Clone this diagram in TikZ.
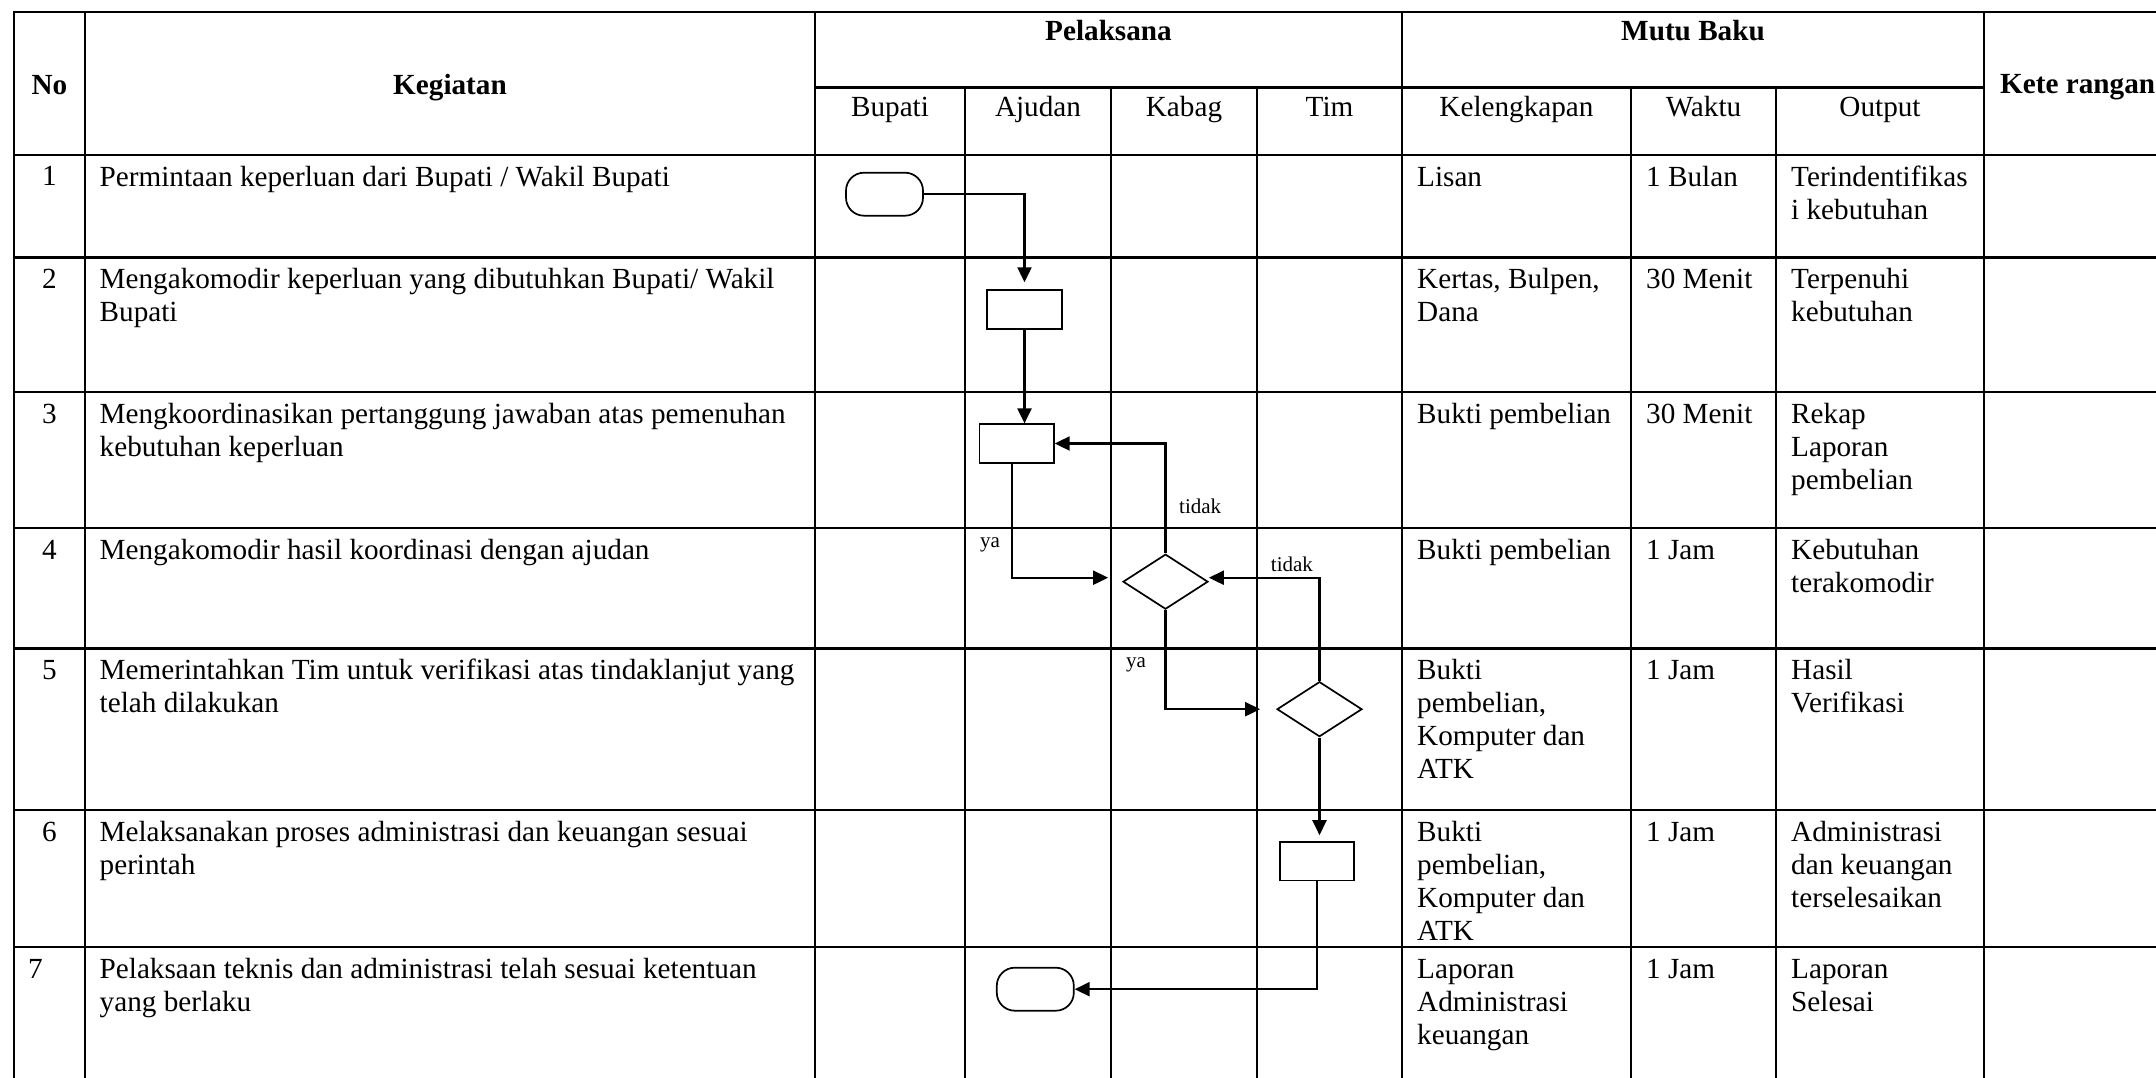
\documentclass[tikz,border=0pt]{standalone}
\usepackage{fontspec}
\setmainfont{Liberation Serif}
\usetikzlibrary{shapes.geometric,arrows.meta}
\begin{document}
\begin{tikzpicture}[x=1pt,y=-1pt,
  tline/.style={line width=2.3pt,line cap=rect},
  mtxt/.style={anchor=north west,inner sep=0pt,align=left,font=\fontsize{29.2}{33.1}\selectfont},
  ctxt/.style={anchor=base,inner sep=0pt,font=\fontsize{29.2}{33.1}\selectfont},
  hdr/.style={anchor=base,inner sep=0pt,font=\fontsize{29.2}{33.1}\selectfont\bfseries},
  small/.style={anchor=base west,inner sep=0pt,font=\fontsize{21}{24}\selectfont},
  proc/.style={draw,line width=1.7pt,fill=white,rectangle,inner sep=0pt,minimum width=74.5pt,minimum height=38.5pt},
  term/.style={draw,line width=1.7pt,fill=white,rectangle,rounded corners=18pt,inner sep=0pt,minimum width=77pt,minimum height=43pt},
  dec/.style={draw,line width=1.7pt,fill=white,diamond,inner sep=0pt,minimum width=85pt,minimum height=55pt},
  arr/.style={line width=2.2pt,-{Triangle[length=15pt,width=14pt]}},
]
\useasboundingbox (0,0) rectangle (2156,1078);

% ---- table grid ----
\foreach \yy in {12,155,257.5,392,528.3,648.5,810,947}
  \draw[tline] (14,\yy) -- (2160,\yy);
\draw[tline] (815,87.5) -- (1984,87.5);
\foreach \xx in {14,85,815,1402,1984}
  \draw[tline] (\xx,12) -- (\xx,1082);
\foreach \xx in {965,1111,1257,1631,1776}
  \draw[tline] (\xx,87.5) -- (\xx,1082);

% ---- headers ----
\node[hdr] (hno) at (49.5,95) {No};
\node[hdr] (hkeg) at (450,95) {Kegiatan};
\node[hdr] (hpel) at (1108.5,41) {Pelaksana};
\node[hdr] (hmutu) at (1693,41) {Mutu Baku};
\node[hdr,anchor=base west] (hket) at (2000,94) {Kete rangan};
\node[ctxt] (hbup) at (890,116.5) {Bupati};
\node[ctxt] (haju) at (1038,116.5) {Ajudan};
\node[ctxt] (hkab) at (1184,116.5) {Kabag};
\node[ctxt] (htim) at (1329.5,116.5) {Tim};
\node[ctxt] (hkel) at (1516.5,116.5) {Kelengkapan};
\node[ctxt] (hwak) at (1703.5,116.5) {Waktu};
\node[ctxt] (hout) at (1880,116.5) {Output};

% ---- numbers ----
\node[ctxt] (n1) at (49.5,186) {1};
\node[ctxt] (n2) at (49.5,288.5) {2};
\node[ctxt] (n3) at (49.5,423) {3};
\node[ctxt] (n4) at (49.5,559.3) {4};
\node[ctxt] (n5) at (49.5,679.5) {5};
\node[ctxt] (n6) at (49.5,841) {6};
\node[ctxt,anchor=base west] (n7) at (28,978) {7};

% ---- kegiatan ----
\node[mtxt] (k1) at (99.5,162.8) {\strut Permintaan keperluan dari Bupati / Wakil Bupati};
\node[mtxt] (k2) at (99.5,265.3) {\strut Mengakomodir keperluan yang dibutuhkan Bupati/ Wakil\\Bupati};
\node[mtxt] (k3) at (99.5,399.8) {\strut Mengkoordinasikan pertanggung jawaban atas pemenuhan\\kebutuhan keperluan};
\node[mtxt] (k4) at (99.5,536.1) {\strut Mengakomodir hasil koordinasi dengan ajudan};
\node[mtxt] (k5) at (99.5,656.3) {\strut Memerintahkan Tim untuk verifikasi atas tindaklanjut yang\\telah dilakukan};
\node[mtxt] (k6) at (99.5,817.8) {\strut Melaksanakan proses administrasi dan keuangan sesuai\\perintah};
\node[mtxt] (k7) at (99.5,954.8) {\strut Pelaksaan teknis dan administrasi telah sesuai ketentuan\\yang berlaku};

% ---- kelengkapan ----
\node[mtxt] (l1) at (1417,162.8) {\strut Lisan};
\node[mtxt] (l2) at (1417,265.3) {\strut Kertas, Bulpen,\\Dana};
\node[mtxt] (l3) at (1417,399.8) {\strut Bukti pembelian};
\node[mtxt] (l4) at (1417,536.1) {\strut Bukti pembelian};
\node[mtxt] (l5) at (1417,656.3) {\strut Bukti\\pembelian,\\Komputer dan\\ATK};
\node[mtxt] (l6) at (1417,817.8) {\strut Bukti\\pembelian,\\Komputer dan\\ATK};
\node[mtxt] (l7) at (1417,954.8) {\strut Laporan\\Administrasi\\keuangan};

% ---- waktu ----
\node[mtxt] (w1) at (1646,162.8) {\strut 1 Bulan};
\node[mtxt] (w2) at (1646,265.3) {\strut 30 Menit};
\node[mtxt] (w3) at (1646,399.8) {\strut 30 Menit};
\node[mtxt] (w4) at (1646,536.1) {\strut 1 Jam};
\node[mtxt] (w5) at (1646,656.3) {\strut 1 Jam};
\node[mtxt] (w6) at (1646,817.8) {\strut 1 Jam};
\node[mtxt] (w7) at (1646,954.8) {\strut 1 Jam};

% ---- output ----
\node[mtxt] (o1) at (1791,162.8) {\strut Terindentifikas\\i kebutuhan};
\node[mtxt] (o2) at (1791,265.3) {\strut Terpenuhi\\kebutuhan};
\node[mtxt] (o3) at (1791,399.8) {\strut Rekap\\Laporan\\pembelian};
\node[mtxt] (o4) at (1791,536.1) {\strut Kebutuhan\\terakomodir};
\node[mtxt] (o5) at (1791,656.3) {\strut Hasil\\Verifikasi};
\node[mtxt] (o6) at (1791,817.8) {\strut Administrasi\\dan keuangan\\terselesaikan};
\node[mtxt] (o7) at (1791,954.8) {\strut Laporan\\Selesai};

% ---- flow shapes ----
\node[term] (t1) at (884.5,194.2) {};
\node[proc] (b2) at (1024.5,309.4) {};
\node[proc] (b3) at (1016.6,443.5) {};
\node[dec]  (d4) at (1165.5,581.7) {};
\node[dec]  (d5) at (1319.5,709.2) {};
\node[proc] (b6) at (1317,861.3) {};
\node[term] (t7) at (1035.3,989.2) {};

% ---- connectors ----
\draw[arr,shorten >=7pt] (t1.east) -| (b2.north);
\draw[arr] (b2.south) -- (b2.south |- b3.north);
\draw[arr,shorten >=14pt] ([xshift=-4.6pt]b3.south) |- ([yshift=4pt]d4.west);
\draw[arr] (d4.north) |- (b3.east);
\draw[arr,shorten >=16pt] (d4.south) |- (d5.west);
\draw[arr] (d5.north) |- ([yshift=4pt]d4.east);
\draw[arr,shorten >=6pt] (d5.south) -- (d5.south |- b6.north);
\draw[arr] (b6.south) |- (t7.east);

% ---- branch labels ----
\node[small] (lt1) at (1179,513.3) {tidak};
\node[small] (ly1) at (980,547) {ya};
\node[small] (ly2) at (1126,667.7) {ya};
\node[small] (lt2) at (1270.7,571.7) {tidak};
\end{tikzpicture}
\end{document}
